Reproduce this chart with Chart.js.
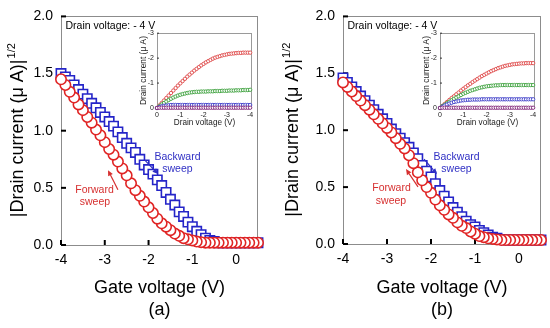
<!DOCTYPE html>
<html>
<head>
<meta charset="utf-8">
<script src="https://cdn.jsdelivr.net/npm/chart.js@4.4.1/dist/chart.umd.min.js"></script>
<style>
  body { margin: 0; background: #fff; }
  #wrap { position: relative; width: 550px; height: 328px; }
  canvas { position: absolute; }
</style>
</head>
<body>
<div id="wrap">
  <canvas id="mainA" width="275" height="328" style="left:0;top:0"></canvas>
  <canvas id="mainB" width="275" height="328" style="left:275px;top:0"></canvas>
  <canvas id="insetA" width="124" height="106" style="left:133px;top:26px"></canvas>
  <canvas id="insetB" width="124" height="106" style="left:416px;top:26px"></canvas>
</div>
<script>
// ---- data ----
const gateV = [-4.0,-3.9,-3.8,-3.7,-3.6,-3.5,-3.4,-3.3,-3.2,-3.1,
  -3.0,-2.9,-2.8,-2.7,-2.6,-2.5,-2.4,-2.3,-2.2,-2.1,
  -2.0,-1.9,-1.8,-1.7,-1.6,-1.5,-1.4,-1.3,-1.2,-1.1,
  -1.0,-0.9,-0.8,-0.7,-0.6,-0.5,-0.4,-0.3,-0.2,-0.1,
  0.0,0.1,0.2,0.3,0.4,0.5];

// panel (a)
const fwdA = [1.45,1.40,1.34,1.29,1.23,1.18,1.12,1.07,1.01,0.96,
  0.90,0.84,0.79,0.73,0.67,0.61,0.54,0.48,0.43,0.38,
  0.33,0.28,0.23,0.19,0.16,0.13,0.10,0.08,0.06,0.05,
  0.04,0.03,0.025,0.02,0.02,0.02,0.02,0.02,0.02,0.02,
  0.02,0.02,0.02,0.02,0.02,0.02];
const bwdA = [1.50,1.47,1.44,1.40,1.36,1.32,1.28,1.24,1.20,1.16,
  1.12,1.08,1.04,0.99,0.94,0.89,0.85,0.81,0.75,0.70,
  0.66,0.62,0.57,0.52,0.46,0.40,0.35,0.29,0.25,0.20,
  0.16,0.12,0.09,0.06,0.04,0.03,0.02,0.02,0.02,0.02,
  0.02,0.02,0.02,0.02,0.02,0.02];

// panel (b)
const fwdB = [1.42,1.38,1.34,1.30,1.26,1.22,1.18,1.14,1.10,1.06,
  1.02,0.98,0.93,0.88,0.84,0.78,0.71,0.63,0.56,0.50,
  0.45,0.39,0.34,0.30,0.26,0.23,0.19,0.16,0.14,0.11,
  0.09,0.07,0.06,0.05,0.045,0.04,0.035,0.035,0.035,0.035,
  0.035,0.035,0.035,0.035,0.035,0.035];
const bwdB = [1.46,1.42,1.38,1.34,1.30,1.26,1.22,1.18,1.14,1.10,
  1.06,1.01,0.97,0.93,0.89,0.85,0.80,0.75,0.69,0.64,
  0.59,0.53,0.47,0.42,0.37,0.32,0.28,0.24,0.20,0.17,
  0.15,0.12,0.10,0.08,0.06,0.05,0.04,0.035,0.035,0.035,
  0.035,0.035,0.035,0.035,0.035,0.035];

// insets: drain current vs drain voltage
const drainV = [0,-0.1,-0.2,-0.3,-0.4,-0.5,-0.6,-0.7,-0.8,-0.9,
  -1.0,-1.1,-1.2,-1.3,-1.4,-1.5,-1.6,-1.7,-1.8,-1.9,
  -2.0,-2.1,-2.2,-2.3,-2.4,-2.5,-2.6,-2.7,-2.8,-2.9,
  -3.0,-3.1,-3.2,-3.3,-3.4,-3.5,-3.6,-3.7,-3.8,-3.9,-4.0];

const inA_red = [0,-0.10,-0.20,-0.30,-0.40,-0.50,-0.60,-0.70,-0.80,-0.90,
  -0.99,-1.08,-1.17,-1.26,-1.34,-1.42,-1.50,-1.57,-1.64,-1.71,
  -1.77,-1.83,-1.88,-1.93,-1.98,-2.02,-2.05,-2.08,-2.11,-2.13,
  -2.15,-2.17,-2.18,-2.19,-2.20,-2.21,-2.21,-2.22,-2.22,-2.22,-2.22];
const inA_green = [0,-0.07,-0.14,-0.20,-0.26,-0.32,-0.37,-0.42,-0.46,-0.50,
  -0.53,-0.56,-0.58,-0.60,-0.62,-0.63,-0.64,-0.65,-0.65,-0.66,
  -0.66,-0.66,-0.67,-0.67,-0.67,-0.68,-0.68,-0.68,-0.69,-0.69,
  -0.69,-0.70,-0.70,-0.70,-0.71,-0.71,-0.71,-0.72,-0.72,-0.72,-0.73];
const inA_blue = [0,-0.04,-0.07,-0.09,-0.10,-0.11,-0.12,-0.12,-0.12,-0.12,
  -0.12,-0.12,-0.12,-0.12,-0.12,-0.12,-0.12,-0.12,-0.12,-0.12,
  -0.12,-0.12,-0.12,-0.12,-0.12,-0.12,-0.12,-0.12,-0.12,-0.12,
  -0.12,-0.12,-0.12,-0.12,-0.12,-0.12,-0.12,-0.12,-0.12,-0.12,-0.12];
const inA_purple = [0,-0.01,-0.01,-0.01,-0.01,-0.01,-0.01,-0.01,-0.01,-0.01,
  -0.01,-0.01,-0.01,-0.01,-0.01,-0.01,-0.01,-0.01,-0.01,-0.01,
  -0.01,-0.01,-0.01,-0.01,-0.01,-0.01,-0.01,-0.01,-0.01,-0.01,
  -0.01,-0.01,-0.01,-0.01,-0.01,-0.01,-0.01,-0.01,-0.01,-0.01,-0.01];

const inB_red = [0,-0.08,-0.16,-0.24,-0.32,-0.40,-0.47,-0.55,-0.62,-0.70,
  -0.77,-0.84,-0.91,-0.97,-1.04,-1.10,-1.16,-1.22,-1.28,-1.33,
  -1.38,-1.43,-1.48,-1.52,-1.56,-1.60,-1.63,-1.66,-1.69,-1.71,
  -1.73,-1.75,-1.76,-1.77,-1.78,-1.79,-1.79,-1.80,-1.80,-1.80,-1.80];
const inB_green = [0,-0.07,-0.13,-0.19,-0.25,-0.31,-0.37,-0.42,-0.47,-0.52,
  -0.57,-0.61,-0.65,-0.69,-0.72,-0.75,-0.78,-0.81,-0.83,-0.85,
  -0.87,-0.88,-0.89,-0.90,-0.91,-0.91,-0.92,-0.92,-0.92,-0.92,
  -0.92,-0.92,-0.92,-0.92,-0.92,-0.92,-0.92,-0.92,-0.92,-0.92,-0.92];
const inB_blue = [0,-0.05,-0.10,-0.14,-0.18,-0.21,-0.24,-0.26,-0.28,-0.30,
  -0.31,-0.32,-0.33,-0.33,-0.34,-0.34,-0.34,-0.34,-0.35,-0.35,
  -0.35,-0.35,-0.35,-0.35,-0.35,-0.35,-0.35,-0.35,-0.35,-0.35,
  -0.35,-0.35,-0.35,-0.35,-0.35,-0.35,-0.35,-0.35,-0.35,-0.35,-0.35];
const inB_purple = inA_purple;

const mainYTicks = [0, 0.5, 1.0, 1.5, 2.0];

// ---- styling ----
const FONT = "'Liberation Sans', Arial, sans-serif";
const RED = 'rgb(224,36,36)';
const BLUE = 'rgb(36,36,200)';
const TXT_RED = 'rgb(214,48,48)';
const TXT_BLUE = 'rgb(48,48,196)';

function pts(xs, ys) {
  return xs.map((v, i) => ({ x: v, y: ys[i] }));
}

// frame, inward ticks, y title with superscript, notes and arrows
const deco = {
  id: 'deco',
  beforeDatasetsDraw(chart, args, o) {
    const ctx = chart.ctx, a = chart.chartArea;
    ctx.save();
    ctx.strokeStyle = o.frame || '#8c8c8c';
    ctx.lineWidth = 1;
    ctx.strokeRect(Math.round(a.left) + 0.5, Math.round(a.top) + 0.5,
      Math.round(a.right - a.left) - 1, Math.round(a.bottom - a.top));
    ctx.strokeStyle = o.tickColor || '#000';
    ctx.lineWidth = o.tickWidth || 2;
    const len = o.tickLen || 5;
    chart.scales.x.ticks.forEach(t => {
      const px = chart.scales.x.getPixelForValue(t.value);
      ctx.beginPath(); ctx.moveTo(px, a.bottom); ctx.lineTo(px, a.bottom - len); ctx.stroke();
    });
    chart.scales.y.ticks.forEach(t => {
      const py = chart.scales.y.getPixelForValue(t.value);
      ctx.beginPath(); ctx.moveTo(a.left, py); ctx.lineTo(a.left + len, py); ctx.stroke();
    });
    ctx.restore();
  },
  afterDraw(chart, args, o) {
    const ctx = chart.ctx, a = chart.chartArea;
    const xs = chart.scales.x, ys = chart.scales.y;
    ctx.save();
    if (o.yTitle) {
      const t = o.yTitle;
      ctx.save();
      ctx.translate(t.x, (a.top + a.bottom) / 2);
      ctx.rotate(-Math.PI / 2);
      ctx.fillStyle = '#000';
      ctx.textBaseline = 'middle';
      ctx.textAlign = 'left';
      ctx.font = t.size + 'px ' + FONT;
      const w1 = ctx.measureText(t.text).width;
      ctx.font = t.supSize + 'px ' + FONT;
      const w2 = ctx.measureText(t.sup).width;
      const x0 = -(w1 + w2) / 2;
      ctx.font = t.size + 'px ' + FONT;
      ctx.fillText(t.text, x0, 0);
      ctx.font = t.supSize + 'px ' + FONT;
      ctx.fillText(t.sup, x0 + w1 + 1, -6);
      ctx.restore();
    }
    if (o.corner) {
      ctx.font = '10.5px ' + FONT;
      ctx.fillStyle = '#000';
      ctx.textBaseline = 'middle';
      ctx.textAlign = 'left';
      ctx.fillText(o.corner, a.left + 4.5, a.top + 9.5);
    }
    (o.notes || []).forEach(n => {
      ctx.font = '10.5px ' + FONT;
      ctx.fillStyle = n.color;
      ctx.textAlign = 'center';
      ctx.textBaseline = 'middle';
      ctx.fillText(n.text, xs.getPixelForValue(n.x), ys.getPixelForValue(n.y));
    });
    (o.arrows || []).forEach(r => {
      const x1 = xs.getPixelForValue(r.x1), y1 = ys.getPixelForValue(r.y1);
      const x2 = xs.getPixelForValue(r.x2), y2 = ys.getPixelForValue(r.y2);
      const ang = Math.atan2(y2 - y1, x2 - x1);
      const hl = 5.5, hw = 2.6;
      ctx.strokeStyle = r.color; ctx.fillStyle = r.color; ctx.lineWidth = 1.2;
      ctx.beginPath(); ctx.moveTo(x1, y1);
      ctx.lineTo(x2 - hl * Math.cos(ang), y2 - hl * Math.sin(ang)); ctx.stroke();
      ctx.beginPath();
      ctx.moveTo(x2, y2);
      ctx.lineTo(x2 - hl * Math.cos(ang) + hw * Math.sin(ang), y2 - hl * Math.sin(ang) - hw * Math.cos(ang));
      ctx.lineTo(x2 - hl * Math.cos(ang) - hw * Math.sin(ang), y2 - hl * Math.sin(ang) + hw * Math.cos(ang));
      ctx.closePath(); ctx.fill();
    });
    ctx.restore();
  }
};

function makeMain(id, fwd, bwd, L) {
  return new Chart(document.getElementById(id), {
    type: 'scatter',
    data: {
      datasets: [
        { // forward sweep, measured from positive to negative gate voltage
          data: pts(gateV, fwd).reverse(),
          pointStyle: 'circle', pointRadius: 5.2, borderWidth: 1.6,
          borderColor: RED, backgroundColor: '#fff', clip: false
        },
        {
          data: pts(gateV, bwd),
          pointStyle: 'rect', pointRadius: 6.6, borderWidth: 1.6,
          borderColor: BLUE, backgroundColor: '#fff', clip: false
        }
      ]
    },
    options: {
      responsive: false, animation: false, events: [],
      layout: { padding: { top: 13, right: L.right, left: 0, bottom: 0 } },
      scales: {
        x: {
          type: 'linear', min: -4, max: 0.5,
          grid: { display: false, drawTicks: false }, border: { display: false },
          afterFit: s => { s.height = L.xh; },
          ticks: { stepSize: 1, includeBounds: false, padding: 7, color: '#000',
                   font: { family: FONT, size: 14 }, callback: v => String(v) },
          title: { display: true, text: ['Gate voltage (V)', L.tag], color: '#000',
                   font: { family: FONT, size: 18, lineHeight: 1.22 }, padding: { top: 0, bottom: 7 } }
        },
        y: {
          type: 'linear', min: 0, max: 2,
          grid: { display: false, drawTicks: false }, border: { display: false },
          afterFit: s => { s.width = L.yw; },
          afterBuildTicks: s => { s.ticks = mainYTicks.map(v => ({ value: v })); },
          ticks: { padding: 8, color: '#000', font: { family: FONT, size: 14 },
                   callback: v => v.toFixed(1) }
        }
      },
      plugins: {
        legend: { display: false }, tooltip: { enabled: false },
        deco: {
          yTitle: { x: 18, text: '|Drain current (\u03bc A)|', sup: '1/2', size: 18, supSize: 11 },
          corner: 'Drain voltage: - 4 V',
          notes: L.notes, arrows: L.arrows
        }
      }
    },
    plugins: [deco]
  });
}

function makeInset(id, red, green, blue, purple) {
  const ds = (ys, c) => ({
    data: pts(drainV, ys), pointStyle: 'circle', pointRadius: 1.7, borderWidth: 0.9,
    borderColor: c, backgroundColor: '#fff', clip: false
  });
  return new Chart(document.getElementById(id), {
    type: 'scatter',
    data: {
      datasets: [
        ds(purple, 'rgb(128,36,120)'),
        ds(blue, 'rgb(60,60,200)'),
        ds(green, 'rgb(60,160,60)'),
        ds(red, 'rgb(222,70,70)')
      ]
    },
    options: {
      responsive: false, animation: false, events: [],
      layout: { padding: { top: 6, right: 5, left: 0, bottom: 0 } },
      scales: {
        x: {
          type: 'linear', min: -4.08, max: 0, reverse: true,
          grid: { display: false, drawTicks: false }, border: { display: false },
          afterFit: s => { s.height = 24; },
          ticks: { stepSize: 1, includeBounds: false, padding: 3, color: '#222',
                   font: { family: FONT, size: 7 } },
          title: { display: true, text: 'Drain voltage (V)', color: '#222',
                   font: { family: FONT, size: 8.2 }, padding: { top: 0, bottom: 4 } }
        },
        y: {
          type: 'linear', min: -3, max: 0, reverse: true,
          grid: { display: false, drawTicks: false }, border: { display: false },
          afterFit: s => { s.width = 24; },
          ticks: { stepSize: 1, padding: 3, color: '#222', font: { family: FONT, size: 7 } },
          title: { display: true, text: 'Drain current (\u03bc A)', color: '#222',
                   font: { family: FONT, size: 8.4 }, padding: { top: 6, bottom: 0 } }
        }
      },
      plugins: {
        legend: { display: false }, tooltip: { enabled: false },
        deco: { frame: '#9a9a9a', tickColor: '#333', tickWidth: 1, tickLen: 2 }
      }
    },
    plugins: [deco]
  });
}

makeMain('mainA', fwdA, bwdA, {
  right: 17, yw: 61, xh: 83, tag: '(a)',
  notes: [
    { text: 'Backward', x: -1.34, y: 0.772, color: TXT_BLUE },
    { text: 'sweep', x: -1.34, y: 0.664, color: TXT_BLUE },
    { text: 'Forward', x: -3.235, y: 0.478, color: TXT_RED },
    { text: 'sweep', x: -3.225, y: 0.371, color: TXT_RED }
  ],
  arrows: [
    { x1: -2.08, y1: 0.741, x2: -1.784, y2: 0.621, color: TXT_BLUE },
    { x1: -2.70, y1: 0.483, x2: -2.926, y2: 0.655, color: TXT_RED }
  ]
});

makeMain('mainB', fwdB, bwdB, {
  right: 9, yw: 68, xh: 84, tag: '(b)',
  notes: [
    { text: 'Backward', x: -1.42, y: 0.766, color: TXT_BLUE },
    { text: 'sweep', x: -1.42, y: 0.654, color: TXT_BLUE },
    { text: 'Forward', x: -2.898, y: 0.494, color: TXT_RED },
    { text: 'sweep', x: -2.909, y: 0.377, color: TXT_RED }
  ],
  arrows: [
    { x1: -2.159, y1: 0.745, x2: -1.864, y2: 0.615, color: TXT_BLUE },
    { x1: -2.295, y1: 0.502, x2: -2.568, y2: 0.658, color: TXT_RED }
  ]
});

makeInset('insetA', inA_red, inA_green, inA_blue, inA_purple);
makeInset('insetB', inB_red, inB_green, inB_blue, inB_purple);
</script>
</body>
</html>
